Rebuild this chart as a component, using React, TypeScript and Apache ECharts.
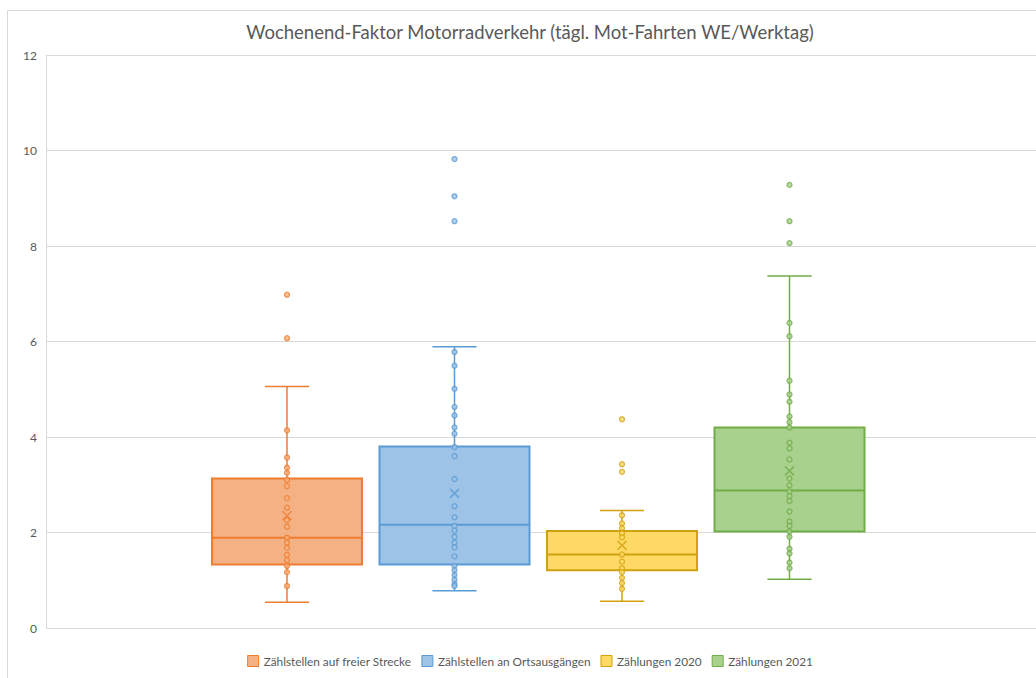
import React, { useEffect, useRef } from "react";
import * as echarts from "echarts";

const titleText = "Wochenend-Faktor Motorradverkehr (tägl. Mot-Fahrten WE/Werktag)";
const seriesNames = [
  "Zählstellen auf freier Strecke",
  "Zählstellen an Ortsausgängen",
  "Zählungen 2020",
  "Zählungen 2021",
];
const fillColors = ["#F4B183", "#9DC3E6", "#FFD966", "#A9D18E"];
const lineColors = ["#ED7D31", "#5B9BD5", "#D2A10E", "#70AD47"];

// [min, Q1, median, Q3, max]
const statsFreie = [0.54, 1.33, 1.89, 3.13, 5.06];
const statsOrts = [0.78, 1.33, 2.16, 3.8, 5.89];
const stats2020 = [0.56, 1.21, 1.54, 2.03, 2.46];
const stats2021 = [1.02, 2.02, 2.88, 4.2, 7.37];
const means = [2.35, 2.82, 1.73, 3.29];

const pointsFreie = [6.98, 6.07, 4.14, 3.57, 3.36, 3.25, 3.1, 2.97, 2.72, 2.52, 2.26, 2.12, 1.89, 1.79, 1.68, 1.53, 1.42, 1.3, 1.17, 0.88];
const pointsOrts = [9.82, 9.04, 8.52, 5.78, 5.49, 5.01, 4.63, 4.45, 4.2, 4.07, 3.79, 3.6, 3.12, 2.55, 2.32, 2.14, 2.04, 1.91, 1.79, 1.69, 1.5, 1.3, 1.21, 1.11, 1.01, 0.92, 0.88];
const points2020 = [4.37, 3.43, 3.27, 2.36, 2.19, 2.09, 1.98, 1.9, 1.54, 1.39, 1.25, 1.17, 1.05, 0.94, 0.82];
const points2021 = [9.28, 8.52, 8.06, 6.39, 6.11, 5.18, 4.89, 4.74, 4.43, 4.31, 4.2, 3.88, 3.76, 3.53, 3.13, 2.99, 2.86, 2.76, 2.66, 2.44, 2.23, 2.14, 2.02, 1.91, 1.66, 1.56, 1.37, 1.25];

const yMin = 0;
const yMax = 12;
const yInterval = 2;

const allStats = [statsFreie, statsOrts, stats2020, stats2021];
const allPoints = [pointsFreie, pointsOrts, points2020, points2021];

const FONT = "Lato, 'Open Sans', sans-serif";
const TEXT_COLOR = "#595959";
const GRID_COLOR = "#d9d9d9";

function makeRender(fill: string, stroke: string) {
  return (params: any, api: any) => {
    const c = api.value(0);
    const pMin = api.coord([c, api.value(1)]);
    const x = pMin[0];
    const yLo = pMin[1];
    const yQ1 = api.coord([c, api.value(2)])[1];
    const yMed = api.coord([c, api.value(3)])[1];
    const yQ3 = api.coord([c, api.value(4)])[1];
    const yHi = api.coord([c, api.value(5)])[1];
    const band = api.size([1, 0])[0];
    const half = band * 0.4478;
    const cap = band * 0.132;
    const ls = { stroke, lineWidth: 1.5, fill: "none" };
    return {
      type: "group",
      children: [
        { type: "line", shape: { x1: x, y1: yLo, x2: x, y2: yQ1 }, style: ls },
        { type: "line", shape: { x1: x, y1: yQ3, x2: x, y2: yHi }, style: ls },
        { type: "line", shape: { x1: x - cap, y1: yLo, x2: x + cap, y2: yLo }, style: ls },
        { type: "line", shape: { x1: x - cap, y1: yHi, x2: x + cap, y2: yHi }, style: ls },
        {
          type: "rect",
          shape: { x: x - half, y: yQ3, width: 2 * half, height: yQ1 - yQ3 },
          style: { fill, stroke, lineWidth: 2 },
        },
        {
          type: "line",
          shape: { x1: x - half, y1: yMed, x2: x + half, y2: yMed },
          style: { stroke, lineWidth: 2, fill: "none" },
        },
      ],
    };
  };
}

export default function App() {
  const ref = useRef<HTMLDivElement>(null);

  useEffect(() => {
    if (!ref.current) return;
    const chart = echarts.init(ref.current, undefined, { renderer: "svg" });

    const boxSeries = seriesNames.map((name, i) => ({
      name,
      type: "custom",
      xAxisIndex: 1,
      yAxisIndex: 1,
      z: 2,
      silent: true,
      itemStyle: { color: fillColors[i], borderColor: lineColors[i] },
      encode: { x: 0, y: [1, 2, 3, 4, 5] },
      data: [[i, ...allStats[i]]],
      renderItem: makeRender(fillColors[i], lineColors[i]),
    }));

    const pointSeries = allPoints.map((pts, i) => ({
      name: "pts" + i,
      type: "scatter",
      xAxisIndex: 1,
      yAxisIndex: 1,
      z: 3,
      silent: true,
      symbol: "circle",
      symbolSize: 5,
      itemStyle: { color: fillColors[i], borderColor: lineColors[i], borderWidth: 1.3 },
      data: pts.map((v) => [i, v]),
    }));

    const meanSeries = {
      name: "mean",
      type: "scatter",
      xAxisIndex: 1,
      yAxisIndex: 1,
      z: 4,
      silent: true,
      symbol: "path://M0,0L10,10M10,0L0,10",
      symbolSize: 9,
      data: means.map((v, i) => ({
        value: [i, v],
        itemStyle: { color: lineColors[i], borderColor: lineColors[i], borderWidth: 1.5 },
      })),
    };

    chart.setOption({
      animation: false,
      backgroundColor: "#ffffff",
      title: {
        text: titleText,
        left: "center",
        top: 6,
        textStyle: { fontFamily: FONT, fontSize: 18.5, fontWeight: "normal", color: TEXT_COLOR },
      },
      legend: {
        left: "center",
        top: 639,
        itemWidth: 11,
        itemHeight: 11,
        itemGap: 10,
        selectedMode: false,
        textStyle: { fontFamily: FONT, fontSize: 11.8, color: TEXT_COLOR },
        data: seriesNames.map((name, i) => ({
          name,
          icon: "rect",
          itemStyle: { color: fillColors[i], borderColor: lineColors[i], borderWidth: 1 },
        })),
      },
      grid: [
        { left: 38, top: 44, width: 1000, height: 573 },
        { left: 195.25, top: 44, width: 670, height: 573 },
      ],
      xAxis: [
        { type: "value", gridIndex: 0, show: false, min: 0, max: 1 },
        {
          type: "category",
          gridIndex: 1,
          show: false,
          data: seriesNames,
          boundaryGap: true,
        },
      ],
      yAxis: [
        {
          type: "value",
          gridIndex: 0,
          min: yMin,
          max: yMax,
          interval: yInterval,
          axisLine: { show: true, lineStyle: { color: GRID_COLOR, width: 1 } },
          axisTick: { show: false },
          axisLabel: { margin: 9, fontFamily: FONT, fontSize: 12, color: TEXT_COLOR },
          splitLine: { show: true, lineStyle: { color: GRID_COLOR, width: 1 } },
        },
        {
          type: "value",
          gridIndex: 1,
          min: yMin,
          max: yMax,
          interval: yInterval,
          show: false,
          splitLine: { show: false },
        },
      ],
      series: [...boxSeries, ...pointSeries, meanSeries],
    });

    return () => chart.dispose();
  }, []);

  return (
    <div
      style={{
        position: "fixed",
        left: 0,
        top: 0,
        width: 1036,
        height: 678,
        overflow: "hidden",
        background: "#ffffff",
      }}
    >
      <div
        style={{
          position: "absolute",
          left: 7,
          top: 10,
          width: 1046,
          height: 700,
          border: "1px solid #d9d9d9",
          boxSizing: "border-box",
        }}
      >
        <div ref={ref} style={{ width: 1044, height: 698 }} />
      </div>
    </div>
  );
}
